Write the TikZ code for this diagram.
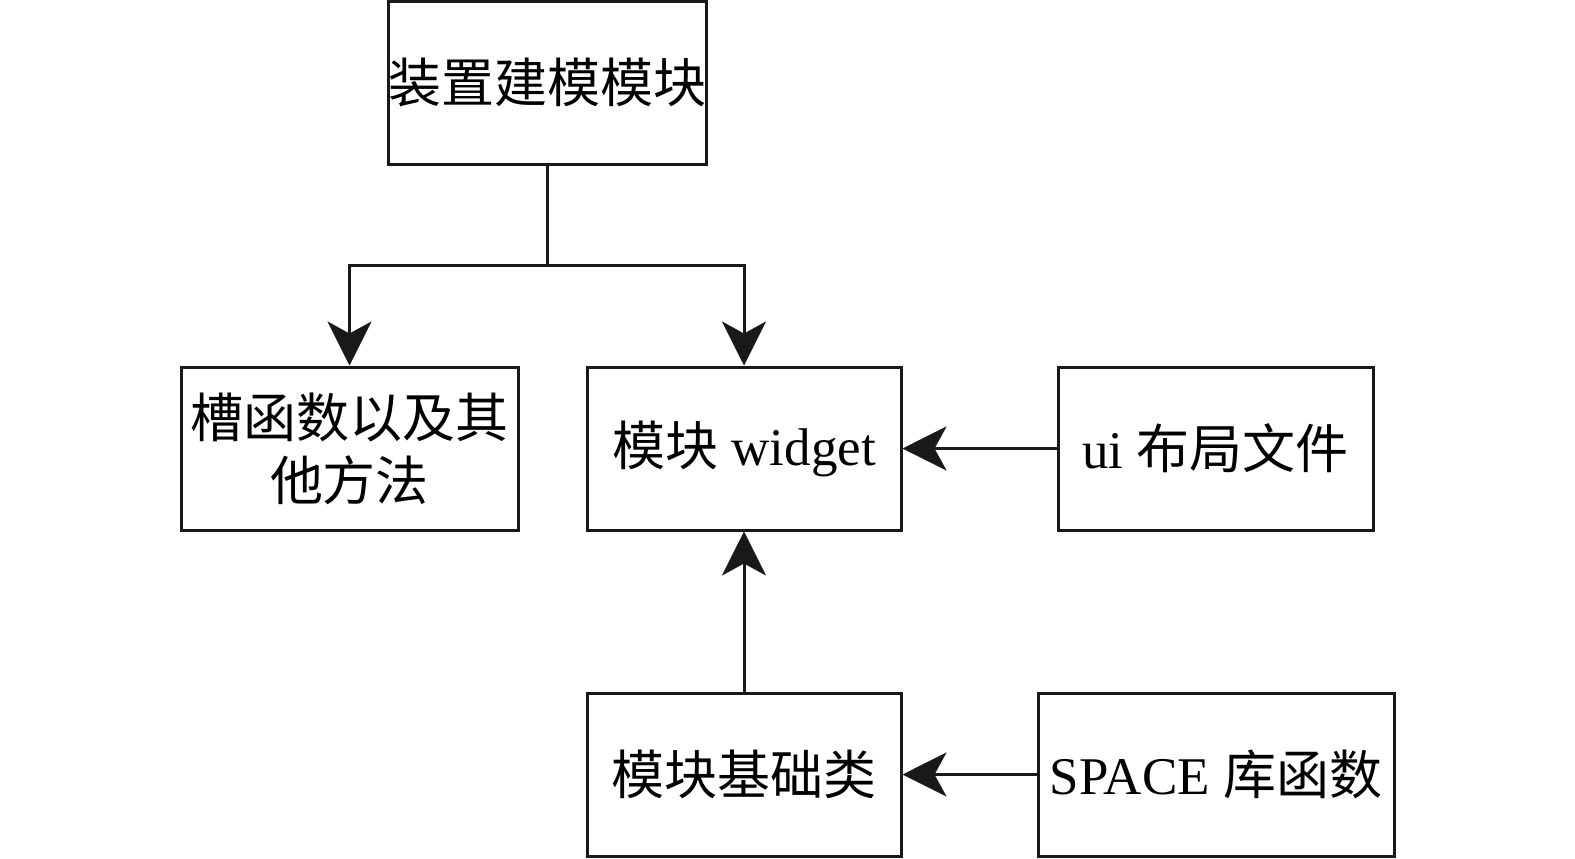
\documentclass[tikz,border=0pt]{standalone}
\usepackage{fontspec}
\setmainfont{Liberation Serif}
\newfontfamily\cjk{Noto Sans CJK SC}
\usetikzlibrary{arrows.meta}
\begin{document}
\begin{tikzpicture}[x=0.5pt,y=-0.5pt,
  box/.style={draw=black!90, line width=1.5pt, rectangle, inner sep=0pt, align=center,
    font=\fontsize{26.5}{31.5}\selectfont},
  conn/.style={draw=black!90, line width=1.5pt},
  arr/.style={conn, -{Stealth[length=22pt,width=22pt,inset=6pt]}}]
\useasboundingbox (0,0) rectangle (1575,858);
\node[box, minimum width=157.5pt, minimum height=81.5pt] (top) at (547.5,82.5) {\cjk 装置建模模块};
\node[box, minimum width=168.5pt, minimum height=81.5pt] (slot) at (349.5,448.5) {\cjk 槽函数以及其\\\cjk 他方法};
\node[box, minimum width=157pt, minimum height=81.5pt] (widget) at (744,448.5) {{\cjk 模块} widget};
\node[box, minimum width=157.5pt, minimum height=81.5pt] (ui) at (1215.5,448.5) {ui {\cjk 布局文件}};
\node[box, minimum width=157pt, minimum height=81.5pt] (base) at (744,774.5) {\cjk 模块基础类};
\node[box, minimum width=178pt, minimum height=81.5pt] (space) at (1216,774.5) {SPACE {\cjk 库函数}};
\coordinate (br) at (547.5,265);
\draw[conn] (top.south) -- (br);
\draw[arr] (br) -| (slot.north);
\draw[arr] (br) -| (widget.north);
\draw[arr] (ui.west) -- (widget.east);
\draw[arr] (base.north) -- (widget.south);
\draw[arr] (space.west) -- (base.east);
\end{tikzpicture}
\end{document}
